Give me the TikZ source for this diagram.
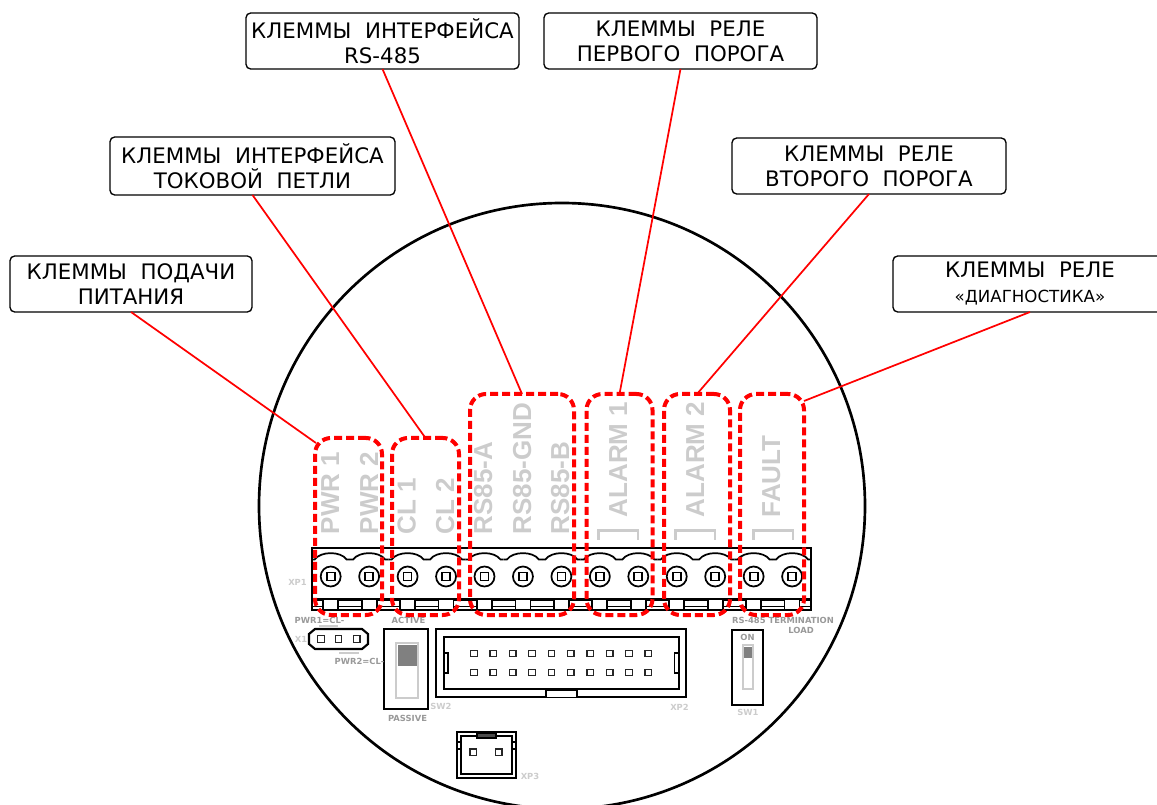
\documentclass[tikz,border=0pt]{standalone}
\usepackage{fontspec}
\setmainfont{DejaVu Sans}
\newfontfamily\armo{Liberation Sans}
\usetikzlibrary{calc}
\definecolor{pale}{HTML}{CCCCCC}
\definecolor{midg}{HTML}{999999}
\definecolor{darkg}{HTML}{808080}
\tikzset{
  sized/.style 2 args={minimum width=#1*0.75pt,minimum height=#2*0.75pt},
  lab/.style={draw=black,line width=1pt,rounded corners=3.5pt,fill=white,inner sep=0pt,outer sep=0pt,align=center,
    font=\fontsize{16}{18.75}\selectfont,text=black},
  zone/.style={draw=red,line width=3pt,dash pattern=on 6pt off 3pt,rounded corners=12pt,inner sep=0pt,outer sep=0pt},
  lead/.style={draw=red,line width=1.3pt},
  term/.style={rotate=90,anchor=base west,inner sep=0pt,text=pale,font=\armo\bfseries\fontsize{19.5}{20}\selectfont},
  tiny/.style={inner sep=0pt,font=\bfseries\fontsize{6.3}{7.5}\selectfont,text=midg},
  tinyp/.style={tiny,text=pale},
  wire/.style={draw=black,line width=1.6pt},
  thin/.style={draw=black,line width=1.3pt},
  pin/.style={draw=black!85,line width=1pt,fill=white},
}
\begin{document}
\begin{tikzpicture}[x=0.75pt,y=-0.75pt]
\useasboundingbox (0,0) rectangle (1157,805);
\clip (0,0) rectangle (1157,805);
% main circle
\draw[line width=2pt] (562,506) circle [radius=303*0.75pt];
% terminal legends
\node[term] (tPa) at (339,534.5) {PWR 1};
\node[term] (tPb) at (378,534.5) {PWR 2};
\node[term] (tCa) at (415.5,534.5) {CL 1};
\node[term] (tCb) at (454,534.5) {CL 2};
\node[term] (tRa) at (492,534.5) {RS85-A};
\node[term] (tRg) at (531,534.5) {RS85-GND};
\node[term] (tRb) at (569,534.5) {RS85-B};
\node[term] (tAa) at (627,517.5) {ALARM 1};
\node[term] (tAb) at (704,517.5) {ALARM 2};
\node[term] (tF) at (780,517.5) {FAULT};
\foreach \a in {598.5,675.5,753.5}{
  \draw[pale,line width=2.2pt] (\a,539.5) -- (\a,530.5) -- (\a+39.5,530.5) -- (\a+39.5,539.5);
}
% terminal block
\draw[wire] (312,548) rectangle (811,610);
\draw[wire] (312,599.5) -- (811,599.5);
\draw[thin] (312,606.5) -- (811,606.5);
\foreach \i in {0,...,12}{
  \pgfmathsetmacro{\c}{330.7+38.45*\i}
  \draw[thin] (\c-19.2,559.5) -- (\c-16,559.5) .. controls (\c-10,551) and (\c+10,551) .. (\c+16,559.5) -- (\c+19.2,559.5);
  \draw[thin] (\c,576.5) circle [radius=10*0.75pt];
  \draw[thin,fill=white] (\c-4,572.5) rectangle (\c+4,580.5);
  \draw[thin,fill=white] (\c-7.5,599.5) rectangle (\c+7.5,610);
}
% X1 connector
\draw[wire] (315,629) -- (362,629) -- (368,634) -- (368,644) -- (362,649) -- (315,649) -- (309,644) -- (309,634) -- cycle;
\foreach \x in {321,338.5,356.7}{\draw[pin] (\x-3.3,635.7) rectangle (\x+3.3,642.3);}
\draw[pale,line width=1.5pt] (319,625.7) -- (338,625.7);
\draw[pale,line width=1.5pt] (339,653) -- (359,653);
% SW2
\draw[wire] (384,629) rectangle (428,709);
\draw[pale,line width=1pt] (396,643) rectangle (418,698);
\fill[darkg] (397.5,645) rectangle (417,666);
% XP2
\draw[wire] (436,629) rectangle (686,697);
\draw[wire] (444,637) rectangle (679,689);
\draw[thin] (444,653) -- (448,653) -- (448,673) -- (444,673);
\draw[thin] (679,653) -- (674.5,653) -- (674.5,673) -- (679,673);
\draw[wire,fill=white] (546,697) -- (546,690) -- (577,690) -- (577,697);
\foreach \i in {0,...,9}{
  \pgfmathsetmacro{\x}{474+19.37*\i}
  \draw[pin] (\x-3.3,650.2) rectangle (\x+3.3,656.8);
  \draw[pin] (\x-3.3,669.2) rectangle (\x+3.3,675.8);
}
% SW1
\draw[wire] (732,630) rectangle (763,705);
\draw[pale,line width=0.9pt] (743,645) rectangle (753,689);
\fill[darkg] (744,647) rectangle (752,658);
% XP3
\draw[wire] (457,732) rectangle (515.7,777.7);
\draw[wire] (461,736) rectangle (512,774);
\draw[fill=black!70,line width=0.8pt] (477,733) rectangle (496,738);
\draw[thin] (457,742) -- (461,742) (457,749) -- (461,749) (512,742) -- (515.7,742) (512,749) -- (515.7,749);
\draw[pin] (470,749) rectangle (476.6,755.6);
\draw[pin] (495.5,749) rectangle (502.1,755.6);
% small legends
\node[tinyp] (nXPa) at (297.5,582) {XP1};
\node[tiny] (nP1) at (319.5,620) {PWR1=CL-};
\node[tinyp] (nXa) at (301,639) {X1};
\node[tiny] (nP2) at (359.5,661) {PWR2=CL-};
\node[tiny] (nAct) at (408.5,620) {ACTIVE};
\node[tiny] (nPas) at (407.5,718) {PASSIVE};
\node[tinyp] (nSWb) at (441,706) {SW2};
\node[tinyp] (nXPb) at (679.5,707) {XP2};
\node[tinyp] (nXPc) at (530,776) {XP3};
\node[tiny] (nRS) at (783,620) {RS-485 TERMINATION};
\node[tiny] (nLd) at (801,630) {LOAD};
\node[tiny] (nOn) at (747.5,637) {ON};
\node[tinyp] (nSWa) at (748,712) {SW1};
% red zones
\node[zone,sized={67}{177}] (z1) at (348.5,526.5) {};
\node[zone,sized={67}{177}] (z2) at (425.5,526.5) {};
\node[zone,sized={104}{221}] (z3) at (522,504.5) {};
\node[zone,sized={66}{221}] (z4) at (619.5,504.5) {};
\node[zone,sized={66}{221}] (z5) at (697,504.5) {};
\node[zone,sized={64}{221}] (z6) at (772,504.5) {};
% labels
\node[lab,sized={242}{56}] (l1) at (131,284) {КЛЕММЫ\ \ ПОДАЧИ\\ПИТАНИЯ};
\node[lab,sized={285}{58}] (l2) at (252.5,166) {КЛЕММЫ\ \ ИНТЕРФЕЙСА\\ТОКОВОЙ\ \ ПЕТЛИ};
\node[lab,sized={273}{56}] (l3) at (382.5,41) {КЛЕММЫ\ \ ИНТЕРФЕЙСА\\RS-485};
\node[lab,sized={273}{56}] (l4) at (680.5,41) {КЛЕММЫ\ \ РЕЛЕ\\ПЕРВОГО\ \ ПОРОГА};
\node[lab,sized={274}{56}] (l5) at (869,166) {КЛЕММЫ\ \ РЕЛЕ\\ВТОРОГО\ \ ПОРОГА};
\node[lab,sized={274}{56}] (l6) at (1030,284) {КЛЕММЫ\ \ РЕЛЕ\\{\fontsize{12.5}{18.75}\selectfont«ДИАГНОСТИКА»}};
% leaders
\draw[lead] (l1.south) -- ($(z1.north west)+(1,5)$);
\draw[lead] (l2.south) -- (z2.north);
\draw[lead] (l3.south) -- (z3.north);
\draw[lead] (l4.south) -- (z4.north);
\draw[lead] (l5.south) -- (z5.north);
\draw[lead] (l6.south) -- ($(z6.north east)+(0,7)$);
\end{tikzpicture}
\end{document}
